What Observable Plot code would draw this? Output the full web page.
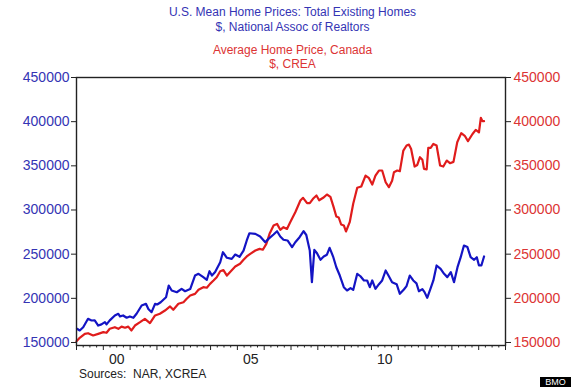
<!DOCTYPE html>
<html><head><meta charset="utf-8">
<script src="https://cdn.jsdelivr.net/npm/d3@7"></script>
<script src="https://cdn.jsdelivr.net/npm/@observablehq/plot@0.6"></script>
<style>
body{margin:0;background:#fff;font-family:"Liberation Sans",Arial,sans-serif;}
#wrap{position:relative;width:585px;height:391px;overflow:hidden;background:#fff;}
#titles{position:relative;height:70px;}
.t{position:absolute;left:0;width:585px;text-align:center;font-size:12px;line-height:14px;}
.b{color:#3434b4;}
.r{color:#dc3434;}
#src{position:absolute;left:79px;top:368px;font-size:12px;line-height:12px;white-space:pre;color:#222;}
#bmo{position:absolute;left:540px;top:377px;width:31px;height:10px;background:#000;color:#fff;font-size:9px;line-height:10px;text-align:center;}
#chart{position:absolute;left:0;top:70px;}
</style>
</head><body>
<div id="wrap">
  <div id="titles">
    <div class="t b" style="top:5px">U.S. Mean Home Prices: Total Existing Homes</div>
    <div class="t b" style="top:20px">$, National Assoc of Realtors</div>
    <div class="t r" style="top:43px">Average Home Price, Canada</div>
    <div class="t r" style="top:57px">$, CREA</div>
  </div>
  <div id="chart"></div>
  <div id="src">Sources:  NAR, XCREA</div>
  <div id="bmo">BMO</div>
</div>
<script>
const yTicks = [150000, 200000, 250000, 300000, 350000, 400000, 450000];
const yearTickPos = [2000.5, 2005.5, 2010.5];
const yearLabels = ["00", "05", "10"];

// U.S. mean existing home price, [decimal year, $]
const usSeries = [[1999.02,165500],[1999.12,163600],[1999.25,167300],[1999.43,176800],[1999.56,174900],[1999.68,175000],[1999.81,169200],[1999.93,170500],[2000.06,173000],[2000.12,170500],[2000.24,175000],[2000.43,180600],[2000.56,182500],[2000.62,179600],[2000.74,180600],[2000.87,178000],[2000.99,179500],[2001.12,178000],[2001.24,182500],[2001.43,191900],[2001.59,193800],[2001.68,188000],[2001.80,184300],[2001.93,193800],[2002.01,193000],[2002.14,195600],[2002.34,201300],[2002.44,214500],[2002.55,208900],[2002.74,206900],[2002.92,210800],[2003.05,208000],[2003.24,210500],
[2003.42,225800],[2003.55,227800],[2003.73,223900],[2003.86,221000],[2003.96,230700],[2004.05,225800],[2004.17,229900],[2004.36,240900],[2004.46,252200],[2004.61,245900],[2004.79,244700],[2004.92,249600],[2005.08,247000],[2005.23,254100],[2005.35,265500],[2005.45,273700],[2005.67,273000],[2005.85,270000],[2006.04,263500],[2006.16,267300],[2006.35,272300],[2006.48,276000],[2006.60,270000],[2006.72,266300],[2006.87,265500],[2007.04,257900],[2007.16,263500],[2007.32,269200],
[2007.47,276000],[2007.57,271700],[2007.70,254100],[2007.78,218300],[2007.87,254900],[2007.97,251000],[2008.10,243600],[2008.22,247300],[2008.34,249400],[2008.44,257200],[2008.57,247300],[2008.69,235200],[2008.82,225800],[2008.97,212600],[2009.09,208900],[2009.22,211600],[2009.32,209500],[2009.47,227800],[2009.59,225000],[2009.72,220200],[2009.84,220200],[2009.94,212600],[2010.03,220200],[2010.15,210800],[2010.28,216000],[2010.40,220200],[2010.53,231500],[2010.65,225000],[2010.77,218300],[2010.94,216000],[2011.06,205100],
[2011.21,210000],[2011.31,213900],[2011.43,225800],[2011.56,220200],[2011.68,217000],[2011.77,208000],[2011.90,210400],[2011.98,207000],[2012.08,200600],[2012.21,211600],[2012.31,220200],[2012.43,237200],[2012.58,233400],[2012.71,227800],[2012.83,224000],[2012.96,229700],[2013.08,218300],[2013.21,235300],[2013.33,246600],[2013.45,259800],[2013.58,258000],[2013.70,246600],[2013.83,243600],[2013.93,246600],[2014.01,237200],[2014.10,237200],[2014.20,247400]];

// Canada average home price (CREA), [decimal year, $]
const caSeries = [[1999.00,151500],[1999.12,155300],[1999.31,159800],[1999.43,160500],[1999.62,157900],[1999.81,159800],[2000.00,161700],[2000.12,161000],[2000.24,165500],[2000.43,167300],[2000.56,165500],[2000.68,168000],[2000.81,166700],[2000.93,168000],[2001.05,163600],[2001.18,169200],[2001.37,173000],[2001.55,176800],[2001.74,171900],[2001.93,180600],[2002.11,182500],[2002.30,186200],[2002.49,190800],[2002.61,187000],[2002.80,193800],[2002.99,195600],[2003.11,199500],[2003.24,203200],
[2003.42,205000],[2003.55,209700],[2003.73,212600],[2003.86,212000],[2003.98,216400],[2004.11,220200],[2004.23,223900],[2004.36,230700],[2004.48,232000],[2004.61,225800],[2004.73,229900],[2004.92,236000],[2005.10,239100],[2005.23,243600],[2005.35,247400],[2005.48,250400],[2005.67,254100],[2005.83,256000],[2005.95,255000],[2006.08,261700],[2006.20,273000],[2006.35,282400],[2006.48,284300],[2006.60,277600],[2006.72,280500],[2006.85,278600],[2006.97,286200],[2007.16,297500],[2007.35,310700],
[2007.45,313800],[2007.60,307700],[2007.70,307700],[2007.82,312700],[2007.95,316400],[2008.05,311000],[2008.20,313800],[2008.34,317500],[2008.47,314900],[2008.59,303200],[2008.69,292600],[2008.78,291500],[2008.87,283600],[2008.97,282500],[2009.05,275700],[2009.19,286200],[2009.32,307000],[2009.47,325100],[2009.62,326600],[2009.78,339000],[2009.90,336400],[2010.03,328800],[2010.15,339000],[2010.28,344700],[2010.40,344700],[2010.53,331400],[2010.65,325800],[2010.77,333000],
[2010.84,342800],[2010.96,344700],[2011.06,344000],[2011.19,367300],[2011.31,373000],[2011.40,374000],[2011.48,369000],[2011.61,349200],[2011.71,351000],[2011.81,359800],[2011.90,357000],[2011.96,346600],[2012.06,346000],[2012.12,370400],[2012.21,370400],[2012.31,374800],[2012.43,373000],[2012.56,350400],[2012.68,349200],[2012.81,356000],[2012.93,353000],[2013.06,354500],[2013.20,376700],[2013.35,387000],[2013.48,384000],[2013.60,377900],[2013.77,386000],[2013.89,390700],[2014.01,388000],[2014.08,404400],[2014.14,400600],[2014.20,400600]];

const yearTicks = d3.range(1999, 2016);
const quarterTicks = d3.range(0, 64).map(i => 1999 + i * 0.25).filter(v => v % 1 !== 0);

const chart = Plot.plot({
  width: 585, height: 297,
  marginTop: 7, marginBottom: 22, marginLeft: 76, marginRight: 80,
  x: {domain: [1999, 2015]},
  y: {domain: [146600, 450000]},
  style: {fontFamily: "'Liberation Sans', Arial, sans-serif", fontSize: "14px", background: "white", color: "#222"},
  marks: [
    Plot.axisY({anchor: "left", ticks: yTicks, tickFormat: d3.format("d"), tickSize: 5, tickPadding: 2, stroke: "#222", fill: "#3434b4", label: null, fontSize: 14}),
    Plot.axisY({anchor: "right", ticks: yTicks, tickFormat: d3.format("d"), tickSize: 5, tickPadding: 3, stroke: "#222", fill: "#dc3434", label: null, fontSize: 14}),
    Plot.axisX({ticks: yearTicks, tickSize: 5, tickFormat: () => "", label: null, stroke: "#222"}),
    Plot.axisX({ticks: quarterTicks, tickSize: 2.5, tickFormat: () => "", label: null, stroke: "#222"}),
    Plot.axisX({ticks: yearTickPos, tickSize: 0, tickPadding: 9, tickFormat: d => yearLabels[yearTickPos.indexOf(d)], label: null, fill: "#222", fontSize: 14}),
    Plot.line(caSeries, {x: d => d[0], y: d => d[1], stroke: "#e01c1c", strokeWidth: 2.2}),
    Plot.line(usSeries, {x: d => d[0], y: d => d[1], stroke: "#1414c4", strokeWidth: 2.2}),
    Plot.frame({stroke: "#222", strokeWidth: 1.4})
  ]
});
document.getElementById("chart").appendChild(chart);
</script>
</body></html>
